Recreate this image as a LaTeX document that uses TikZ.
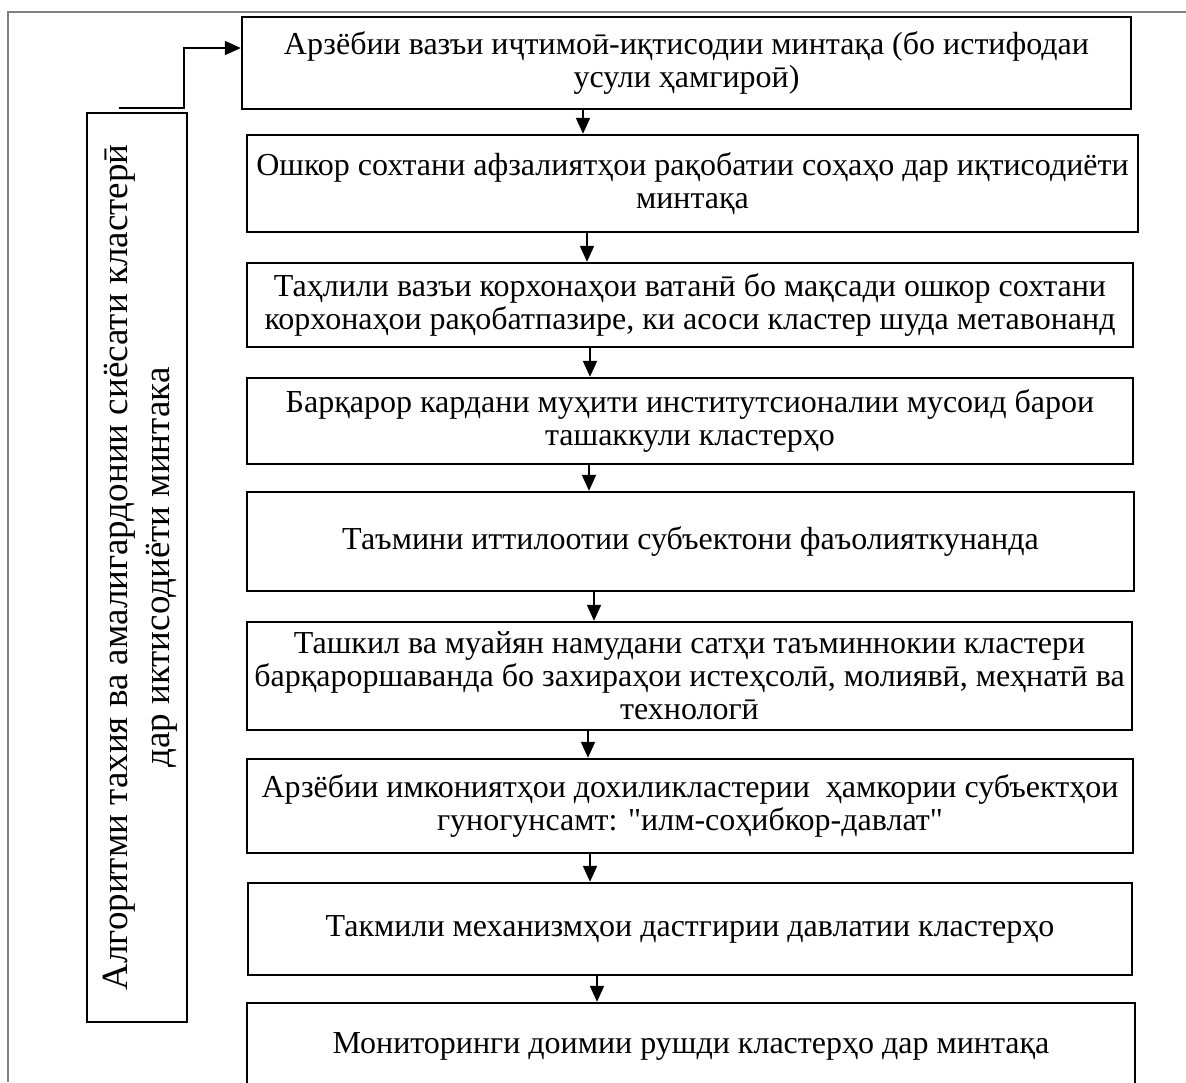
\documentclass[tikz,border=0pt]{standalone}
\usepackage{fontspec}
\setmainfont{Liberation Serif}[Ligatures=TeXOff]
\usetikzlibrary{arrows.meta}
\begin{document}
\begin{tikzpicture}[x=1pt,y=-1pt,
  box/.style={draw, line width=2.4pt, align=center, inner sep=0pt, font=\fontsize{32}{33}\selectfont},
  sidebox/.style={draw, line width=2.4pt, align=center, inner sep=0pt},
  arr/.style={line width=2pt, -{Triangle[width=14pt,length=16pt]}},
  frameline/.style={draw=gray, line width=1.5pt}]
\useasboundingbox (0,0) rectangle (1186,1082);
\clip (0,0) rectangle (1186,1082);
\draw[frameline] (1186,12) -- (8,12) -- (8,1082);
% main column
\node[box, minimum width=889pt, minimum height=92pt] (b1) at (686.5,63)
  {Арзёбии вазъи иҷтимоӣ-иқтисодии минтақа (бо истифодаи\\усули ҳамгироӣ)};
\node[box, minimum width=891pt, minimum height=97pt] (b2) at (692.5,183.5)
  {Ошкор сохтани афзалиятҳои рақобатии соҳаҳо дар иқтисодиёти\\минтақа};
\node[box, minimum width=886pt, minimum height=84pt] (b3) at (690,305)
  {Таҳлили вазъи корхонаҳои ватанӣ бо мақсади ошкор сохтани\\корхонаҳои рақобатпазире, ки асоси кластер шуда метавонанд};
\node[box, minimum width=886pt, minimum height=86pt] (b4) at (690,421)
  {Барқарор кардани муҳити институтсионалии мусоид барои\\ташаккули кластерҳо};
\node[box, minimum width=887pt, minimum height=99pt] (b5) at (690.5,541.5)
  {Таъмини иттилоотии субъектони фаъолияткунанда};
\node[box, minimum width=885pt, minimum height=108pt] (b6) at (689.5,676)
  {Ташкил ва муайян намудани сатҳи таъминнокии кластери\\барқароршаванда бо захираҳои истеҳсолӣ, молиявӣ, меҳнатӣ ва\\технологӣ};
\node[box, minimum width=886pt, minimum height=94pt] (b7) at (690,806)
  {Арзёбии имкониятҳои дохиликластерии\ \ ҳамкории субъектҳои\\гуногунсамт: "илм-соҳибкор-давлат"};
\node[box, minimum width=884pt, minimum height=92pt] (b8) at (690,929)
  {Такмили механизмҳои дастгирии давлатии кластерҳо};
\node[box, minimum width=888pt, minimum height=87pt] (b9) at (691,1046.5)
  {Мониторинги доимии рушди кластерҳо дар минтақа};
% side box
\node[sidebox, minimum width=100pt, minimum height=909pt] (side) at (137,567.5) {};
\node[rotate=90, align=center, font=\fontsize{37}{42}\selectfont] (sidetext) at ([xshift=3pt]side.center)
  {Алгоритми тахия ва амалигардонии сиёсати кластерӣ\\дар иктисодиёти минтака};
% connectors
\coordinate (ls) at (119,108);
\draw[arr] (ls) -- (184,108) -- (184,48) -- (b1.west |- 0,48);
\draw[arr] (b1.south -| 583,0) -- (b2.north -| 583,0);
\draw[arr] (b2.south -| 587,0) -- (b3.north -| 587,0);
\draw[arr] (b3.south -| 590,0) -- (b4.north -| 590,0);
\draw[arr] (b4.south -| 589,0) -- (b5.north -| 589,0);
\draw[arr] (b5.south -| 594,0) -- (b6.north -| 594,0);
\draw[arr] (b6.south -| 588,0) -- (b7.north -| 588,0);
\draw[arr] (b7.south -| 590,0) -- (b8.north -| 590,0);
\draw[arr] (b8.south -| 597,0) -- (b9.north -| 597,0);
\end{tikzpicture}
\end{document}
